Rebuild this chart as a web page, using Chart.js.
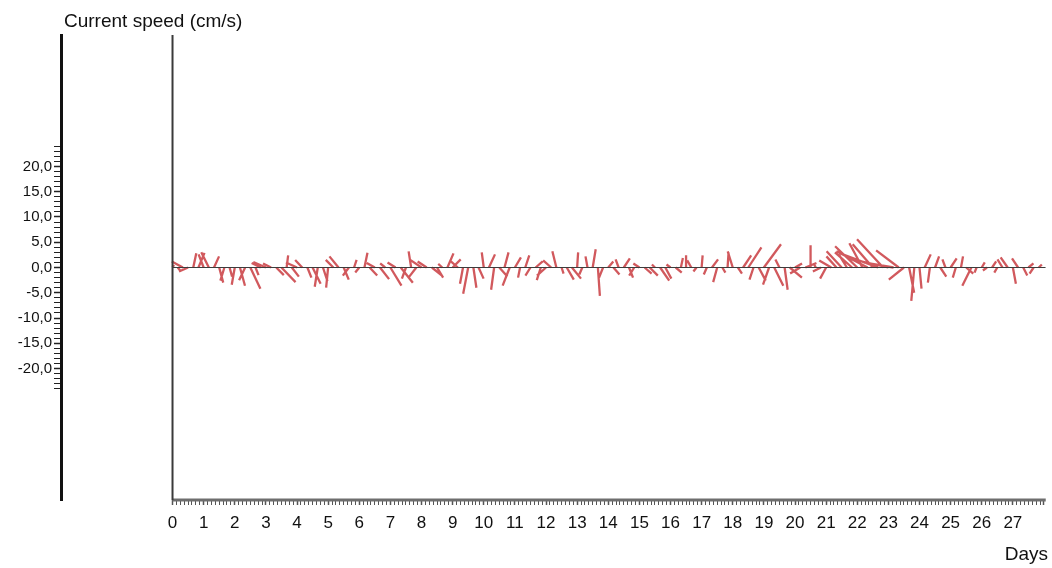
<!DOCTYPE html>
<html>
<head>
<meta charset="utf-8">
<script src="https://cdn.jsdelivr.net/npm/chart.js@4"></script>
<style>
  html, body { margin: 0; padding: 0; background: #ffffff; }
  #wrap { width: 1052px; height: 568px; position: relative; }
</style>
</head>
<body>
<div id="wrap"><canvas id="corriente" width="1052" height="568"></canvas></div>
<script>
// one stick every 4 hours, 6 per day, day 0 to 27
const sampleHours = 4;

// east component (cm/s)
const eastward = [
    0.3, 0.5, -2.2, -1.8, 0.6, 1.2,
    -1.0, -1.5, 1.0, 0.8, -0.8, 0.5,
    -0.6, 1.0, -1.2, 2.0, 0.6, -1.8,
    -2.5, -1.6, 1.5, 2.8, 0.3, 1.4,
    -2.2, -1.4, 0.8, 1.6, -0.6, 0.9,
    -0.4, -1.5, -1.8, 1.0, -1.2, 0.5,
    -0.8, 0.6, 1.5, -1.6, 1.8, -1.0,
    2.2, -1.6, 2.4, -0.8, -0.5, -1.4,
    -2.4, -1.8, 2.0, 1.2, -0.8, 1.2,
    1.6, -1.6, -0.6, -1.0, 0.6, 1.0,
    -0.4, 1.2, -0.6, 1.6, 0.8, -1.4,
    1.2, -0.4, 0.8, -1.0, 1.4, -0.8,
    -1.8, -1.6, -0.8, 0.4, 1.4, 1.8,
    0.2, -0.6, -0.4, 0.6, 0.4, -0.8,
    1.0, 1.2, -0.6, 1.2, 0.8, -1.0,
    -1.2, 1.4, 1.6, -0.6, 1.8, 1.2,
    -0.8, 1.2, 0.4, 0.0, -0.8, -0.6,
    0.2, -0.6, 1.2, -0.8, 0.6, 0.2,
    -1.0, 0.8, 1.6, 2.6, -0.8, 1.4,
    3.4, -1.2, 1.8, -0.8, 0.6, 2.4,
    1.4, -2.0, 2.2, 0.0, -0.4, -1.6,
    -1.2, -2.4, -2.0, -3.0, -1.6, -3.4,
    -4.4, -2.6, -6.2, -4.0, -7.0, -5.2,
    -8.0, -6.0, -4.5, -3.0, 1.0, -0.6,
    0.4, 1.2, -0.4, 0.8, 1.2, -0.6,
    1.2, -0.6, 0.4, 1.4, -1.8, -0.4,
    0.6, -0.8, 0.8, -0.6, -1.0, -1.4,
    0.6, -1.2, 0.8, 1.0, -0.8, 0.6
];

// north component (cm/s)
const northward = [
    0.5, -0.6, 1.2, -0.8, 2.8, 2.9,
    2.6, 3.0, 2.2, -3.0, -2.6, -1.8,
    -3.4, -3.6, -2.5, -4.2, -1.5, 0.9,
    1.1, 0.8, -1.5, -2.9, 2.4, -1.8,
    1.0, 1.5, -2.0, -3.2, -3.8, -2.7,
    -4.0, 1.5, 2.2, -2.4, -1.6, 1.5,
    -1.0, 2.9, -1.6, 0.9, -2.3, 0.8,
    -3.6, 1.0, -3.0, -2.2, 3.2, -1.8,
    1.6, 1.2, -1.6, -2.0, 0.7, 2.8,
    1.6, 1.4, -3.2, -5.2, -4.0, -2.2,
    3.0, 2.6, -4.4, -1.8, 3.0, -3.6,
    2.0, -2.0, 2.4, -1.6, 1.2, -2.5,
    -1.6, 1.4, 3.2, -1.2, -2.4, -2.2,
    3.0, -1.4, 2.2, 3.6, -5.6, -2.0,
    1.2, -1.4, 1.6, 1.8, -2.0, -1.6,
    0.8, -1.2, -1.6, 0.6, -2.6, -2.2,
    0.6, -1.0, 1.9, 2.4, 1.4, -0.8,
    2.4, -1.4, 1.6, -2.9, -1.0, 3.0,
    3.2, -1.2, 2.4, 4.0, -2.4, -2.6,
    4.6, -3.4, -3.6, 1.6, -4.4, -2.0,
    0.8, -1.2, 0.9, 4.4, 0.8, -0.8,
    -2.2, 1.4, 2.2, 3.2, 2.6, 3.0,
    4.2, 4.8, 3.2, 4.6, 2.6, 5.6,
    1.8, 1.0, 3.4, -2.4, -5.0, -6.6,
    -4.2, 2.6, -3.0, 2.2, -1.8, 1.6,
    1.8, -2.0, 2.2, -1.2, -3.6, -1.0,
    1.0, -0.6, 1.2, -1.0, 1.6, 2.0,
    -3.2, 1.8, -1.6, 0.8, -1.2, 0.6
];

const dayTicks = [0, 1, 2, 3, 4, 5, 6, 7, 8, 9, 10, 11, 12, 13, 14, 15, 16, 17, 18, 19, 20, 21, 22, 23, 24, 25, 26, 27];
const speedTicks = [-20, -15, -10, -5, 0, 5, 10, 15, 20];

(function() {
    const xMin = -3.583;
    const xMax = 28.056;
    const yMin = -46;
    const yMax = 46;
    // days per cm/s so that east and north use the same pixel length
    const stickScale = 0.1617;

    const sticks = [];
    eastward.forEach((u, i) => {
        const t = i * sampleHours / 24;
        sticks.push({ x: t, y: 0 });
        sticks.push({ x: t + u * stickScale, y: northward[i] });
        sticks.push({ x: t, y: null });
    });

    const textos = {
        id: 'textos',
        afterDraw(chart) {
            const ctx = chart.ctx;
            ctx.save();
            ctx.fillStyle = '#111';
            ctx.font = '19px "Liberation Sans", Arial, sans-serif';
            ctx.textAlign = 'left';
            ctx.textBaseline = 'alphabetic';
            ctx.fillText('Current speed (cm/s)', 64, 27);
            ctx.textAlign = 'right';
            ctx.fillText('Days', 1048, 560);
            ctx.restore();
        }
    };

    const ctx = document.getElementById('corriente').getContext('2d');
    const myChart = new Chart(ctx, {
        type: 'line',
        data: {
            datasets: [
                {
                    // zero line
                    data: [{ x: 0, y: 0 }, { x: xMax, y: 0 }],
                    borderColor: '#3c3c3c',
                    borderWidth: 1,
                    pointRadius: 0,
                    order: 0
                },
                {
                    data: sticks,
                    borderColor: 'rgba(198, 48, 52, 0.8)',
                    borderWidth: 2.3,
                    pointRadius: 0,
                    spanGaps: false,
                    tension: 0,
                    order: 1
                },
                {
                    // vertical line at day 0
                    data: [{ x: 0, y: yMin }, { x: 0, y: yMax }],
                    borderColor: '#3a3a3a',
                    borderWidth: 2,
                    pointRadius: 0,
                    clip: false,
                    order: 0
                },
                {
                    // bottom time axis
                    data: [{ x: 0, y: yMin }, { x: xMax, y: yMin }],
                    borderColor: '#6e6e6e',
                    borderWidth: 3,
                    pointRadius: 0,
                    clip: false,
                    order: 0
                }
            ]
        },
        options: {
            responsive: false,
            animation: false,
            events: [],
            layout: {
                padding: { left: 0, right: 2, top: 35, bottom: 0 }
            },
            scales: {
                x: {
                    type: 'linear',
                    min: xMin,
                    max: xMax,
                    border: { display: false },
                    grid: {
                        drawOnChartArea: false,
                        drawTicks: true,
                        tickLength: 5,
                        tickColor: function(c) {
                            return c.tick && c.tick.value < 0 ? 'rgba(0,0,0,0)' : '#555';
                        },
                        tickWidth: function(c) {
                            return c.tick && Number.isInteger(c.tick.value) ? 1.5 : 1;
                        }
                    },
                    afterBuildTicks: function(scale) {
                        const ticks = [];
                        for (let i = 0; i <= 224; i++) {
                            ticks.push({ value: i / 8 });
                        }
                        scale.ticks = ticks;
                    },
                    afterFit: function(scale) {
                        scale.height = 68;
                    },
                    ticks: {
                        autoSkip: false,
                        maxRotation: 0,
                        padding: 8,
                        color: '#111',
                        font: { family: '"Liberation Sans", Arial, sans-serif', size: 17 },
                        callback: function(value) {
                            return dayTicks.includes(value) ? String(value) : '';
                        }
                    }
                },
                y: {
                    type: 'linear',
                    min: yMin,
                    max: yMax,
                    border: { display: true, color: '#111', width: 3 },
                    grid: {
                        drawOnChartArea: false,
                        drawTicks: true,
                        tickLength: 7,
                        tickColor: '#222',
                        tickWidth: function(c) {
                            return c.tick && c.tick.value % 5 === 0 ? 1.5 : 1;
                        }
                    },
                    afterBuildTicks: function(scale) {
                        const ticks = [];
                        for (let v = -24; v <= 24; v++) {
                            ticks.push({ value: v });
                        }
                        scale.ticks = ticks;
                    },
                    afterFit: function(scale) {
                        scale.width = 61;
                    },
                    ticks: {
                        autoSkip: false,
                        padding: 2,
                        color: '#111',
                        font: { family: '"Liberation Sans", Arial, sans-serif', size: 15 },
                        callback: function(value) {
                            return speedTicks.includes(value) ? value.toFixed(1).replace('.', ',') : '';
                        }
                    }
                }
            },
            plugins: {
                legend: { display: false },
                tooltip: { enabled: false },
                title: { display: false }
            }
        },
        plugins: [textos]
    });
})();
</script>
</body>
</html>
